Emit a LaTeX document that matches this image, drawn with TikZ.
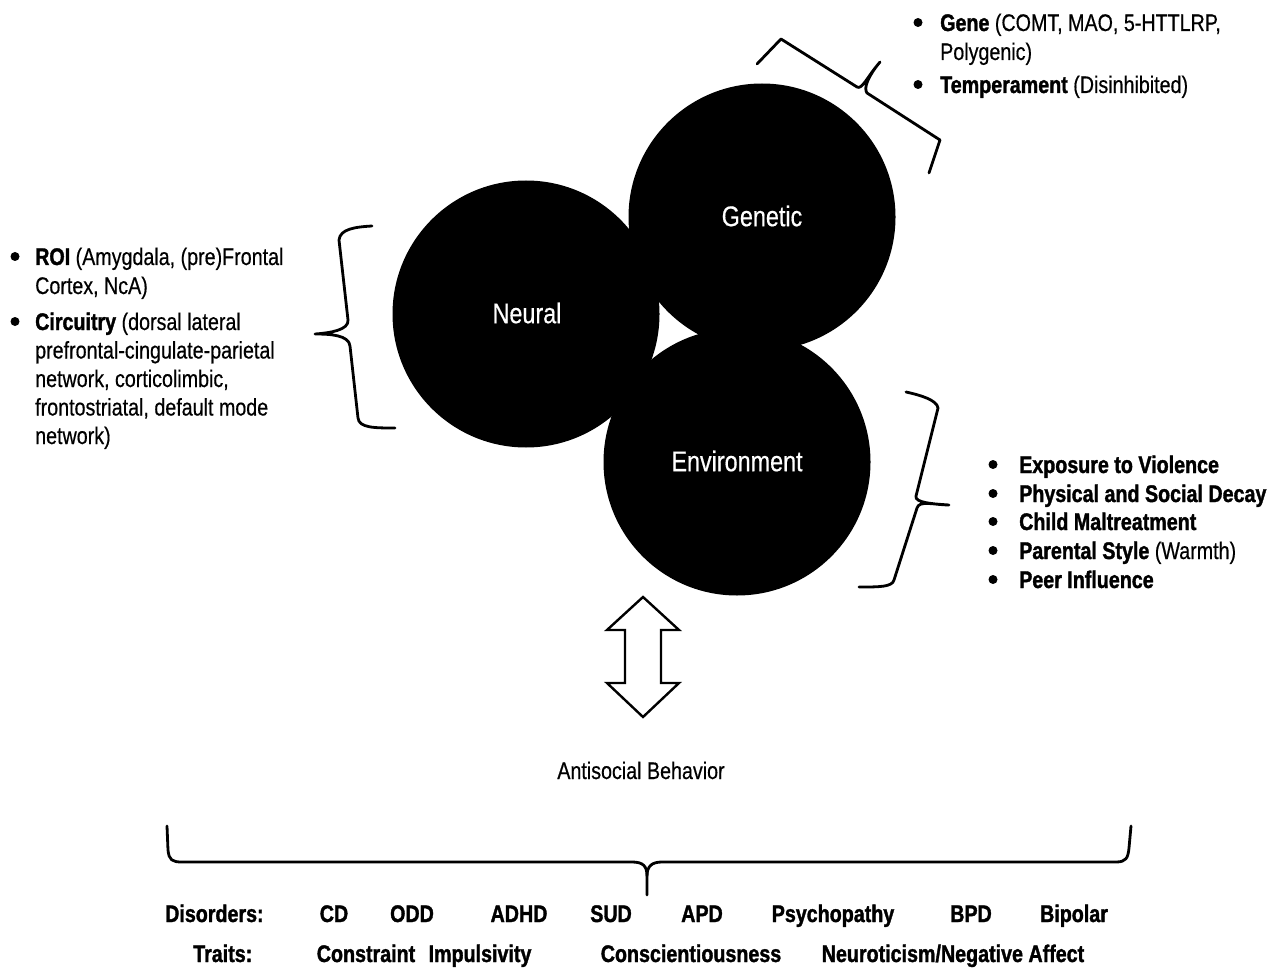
\documentclass[tikz,border=0pt]{standalone}
\usepackage{fontspec}
\setmainfont{Liberation Sans}[FakeStretch=0.82, UprightFeatures={FakeBold=0.5}, BoldFeatures={FakeBold=1.4}]
\begin{document}
\begin{tikzpicture}[x=1pt,y=-1pt,
  txt/.style={anchor=base west, inner sep=0pt, font=\fontsize{24}{29}\selectfont},
  ctxt/.style={anchor=base, inner sep=0pt, font=\fontsize{24}{29}\selectfont},
  bul/.style={circle, fill=black, inner sep=0pt, minimum size=9pt, yshift=8.5pt},
  circ/.style={circle, fill=black, minimum size=267pt, inner sep=0pt},
  clabel/.style={text=white, font=\fontsize{28.5}{34}\selectfont, inner sep=0pt},
  bracepath/.style={line width=2.8pt, line cap=round, line join=round},
  dblarrow/.style={line width=2.4pt, line join=miter, fill=white}]
\useasboundingbox (0,0) rectangle (1276,968);

% circles
\node[circ] (neural) at (526,314) {};
\node[circ] (genetic) at (762,217) {};
\node[circ] (env) at (737,462) {};
\node[clabel] (neurallbl) at (527,313) {Neural};
\node[clabel] (geneticlbl) at (762,216) {Genetic};
\node[clabel] (envlbl) at (737,461) {Environment};

% left brace
\draw[bracepath] (372,226) .. controls (355,227) and (340,229) .. (339,240) -- (348,320)
   .. controls (349,330) and (330,333) .. (315,334)
   .. controls (330,334) and (349,335) .. (350,346) -- (358,418)
   .. controls (359,428) and (375,428) .. (395,428);

% top brace
\draw[bracepath] (757,64) -- (781,39) -- (857,87)
   .. controls (862,90) and (867,77) .. (880,62)
   .. controls (869,75) and (863,88) .. (867,93) -- (940,140) -- (929,173);

% right brace
\draw[bracepath] (906,392) .. controls (920,395) and (937,400) .. (938,408) -- (916,496)
   .. controls (914,503) and (935,504) .. (949,505)
   .. controls (935,505) and (919,500) .. (917,508) -- (894,580)
   .. controls (892,587) and (880,587) .. (859,587);

% bottom brace
\draw[bracepath] (167,826) -- (168,850) .. controls (169,860) and (172,862) .. (182,862) -- (632,862)
   .. controls (643,862) and (647,866) .. (647,876) -- (647,895);
\draw[bracepath] (647,876) .. controls (647,866) and (652,862) .. (662,862) -- (1116,862)
   .. controls (1126,862) and (1128,858) .. (1129,848) -- (1131,826);

% double arrow
\draw[dblarrow] (643,597) -- (679,630) -- (661,630) -- (661,683) -- (679,683) -- (643,717)
   -- (607,683) -- (625,683) -- (625,630) -- (607,630) -- cycle;

% top right list
\node[bul] (b1) at (918,31) {};
\node[txt] (g1) at (940,31) {\textbf{Gene} (COMT, MAO, 5-HTTLRP,};
\node[txt] (g2) at (940,60) {Polygenic)};
\node[bul] (b2) at (918,93) {};
\node[txt] (g3) at (940,93) {\textbf{Temperament} (Disinhibited)};

% left list
\node[bul] (b3) at (15,265) {};
\node[txt] (n1) at (35,265) {\textbf{ROI} (Amygdala, (pre)Frontal};
\node[txt] (n2) at (35,294) {Cortex, NcA)};
\node[bul] (b4) at (15,330) {};
\node[txt] (n3) at (35,330) {\textbf{Circuitry} (dorsal lateral};
\node[txt] (n4) at (35,358.5) {prefrontal-cingulate-parietal};
\node[txt] (n5) at (35,387) {network, corticolimbic,};
\node[txt] (n6) at (35,415.5) {frontostriatal, default mode};
\node[txt] (n7) at (35,444) {network)};

% right list
\node[bul] (b5) at (993,473) {};
\node[txt] (e1) at (1019,473) {\textbf{Exposure to Violence}};
\node[bul] (b6) at (993,502) {};
\node[txt] (e2) at (1019,502) {\textbf{Physical and Social Decay}};
\node[bul] (b7) at (993,530) {};
\node[txt] (e3) at (1019,530) {\textbf{Child Maltreatment}};
\node[bul] (b8) at (993,559) {};
\node[txt] (e4) at (1019,559) {\textbf{Parental Style} (Warmth)};
\node[bul] (b9) at (993,588) {};
\node[txt] (e5) at (1019,588) {\textbf{Peer Influence}};

% antisocial behavior
\node[ctxt] (asb) at (641,779) {Antisocial Behavior};

% disorders row
\node[txt] (dis) at (165,922) {\textbf{Disorders:}};
\node[ctxt] (d1) at (334,922) {\textbf{CD}};
\node[ctxt] (d2) at (412,922) {\textbf{ODD}};
\node[ctxt] (d3) at (519,922) {\textbf{ADHD}};
\node[ctxt] (d4) at (611,922) {\textbf{SUD}};
\node[ctxt] (d5) at (702,922) {\textbf{APD}};
\node[ctxt] (d6) at (833,922) {\textbf{Psychopathy}};
\node[ctxt] (d7) at (971,922) {\textbf{BPD}};
\node[ctxt] (d8) at (1074,922) {\textbf{Bipolar}};

% traits row
\node[txt] (tr) at (193,962) {\textbf{Traits:}};
\node[ctxt] (t1) at (366,962) {\textbf{Constraint}};
\node[ctxt] (t2) at (480,962) {\textbf{Impulsivity}};
\node[ctxt] (t3) at (691,962) {\textbf{Conscientiousness}};
\node[ctxt] (t4) at (953,962) {\textbf{Neuroticism/Negative Affect}};
\end{tikzpicture}
\end{document}
